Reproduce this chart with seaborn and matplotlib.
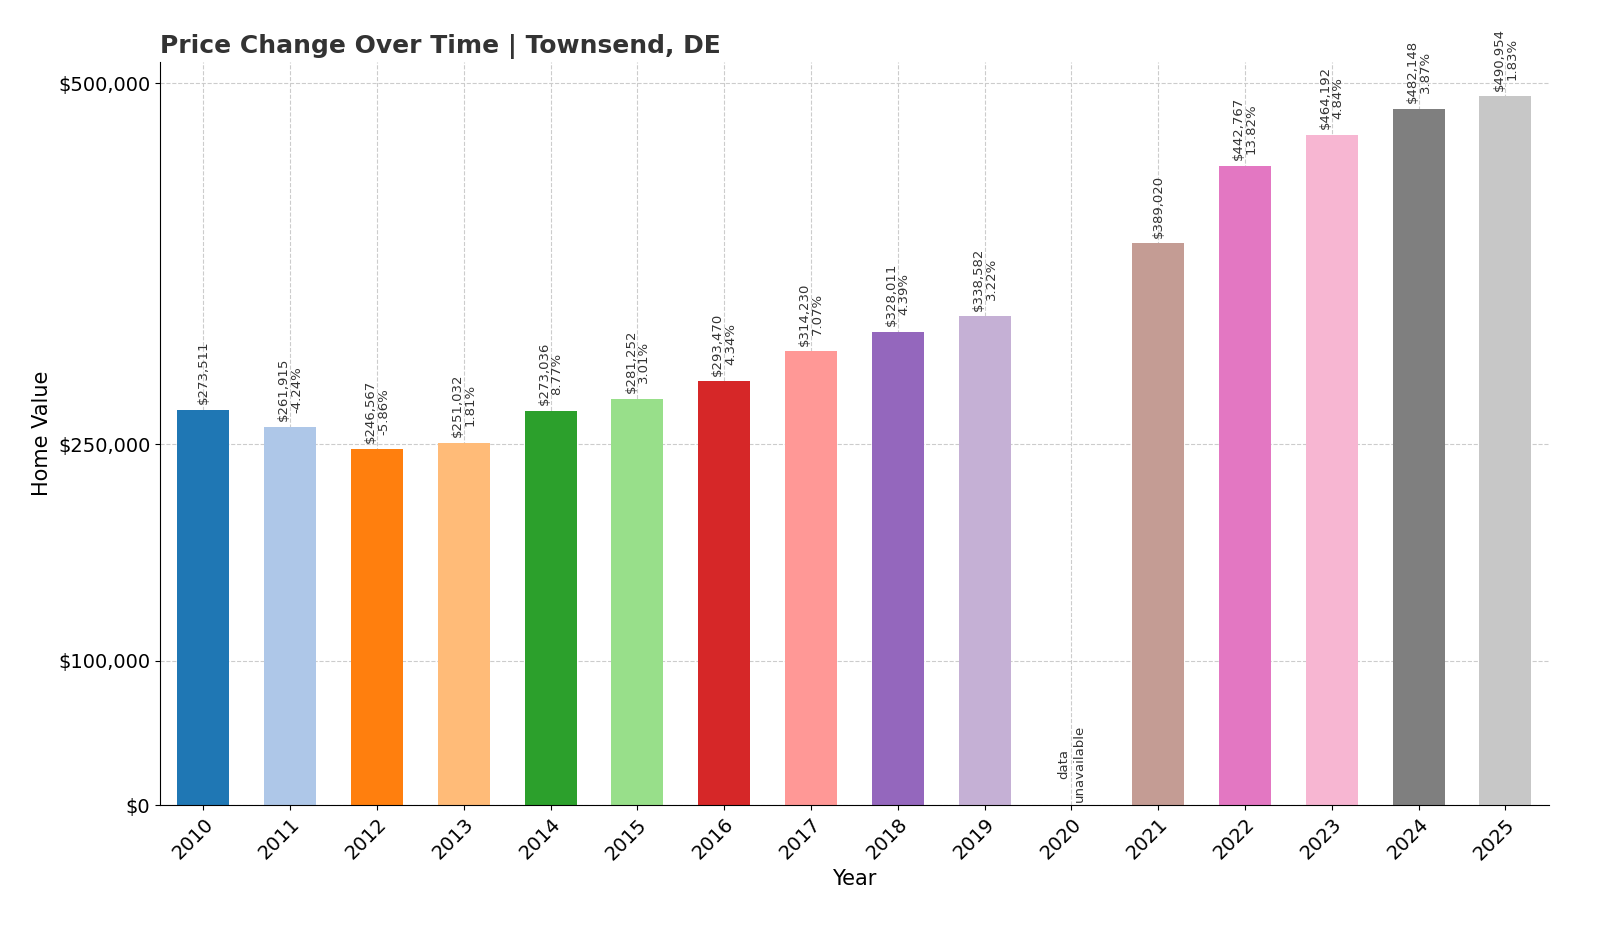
import numpy as np
import pandas as pd
import matplotlib.pyplot as plt
import seaborn as sns
from matplotlib.ticker import FuncFormatter

# data
years = [str(y) for y in range(2010, 2026)]
values = [273511, 261915, 246567, 251032, 273036, 281252, 293470, 314230,
          328011, 338582, np.nan, 389020, 442767, 464192, 482148, 490954]
pct = ["", "-4.24%", "-5.86%", "1.81%", "8.77%", "3.01%", "4.34%", "7.07%",
       "4.39%", "3.22%", "", "", "13.82%", "4.84%", "3.87%", "1.83%"]
yticks = [0, 100000, 250000, 500000]

df = pd.DataFrame({"Year": years, "Value": values})
palette = sns.color_palette("tab20", 16)

fig = plt.figure(figsize=(16, 9.33), dpi=100)
ax = fig.add_axes([0.1, 0.137, 0.868, 0.797])
sns.barplot(data=df, x="Year", y="Value", hue="Year", palette=palette,
            legend=False, width=0.6, saturation=1, ax=ax)

for i, (v, p) in enumerate(zip(values, pct)):
    if np.isnan(v):
        ax.text(i, 2000, "data\nunavailable", rotation=90, ha="center",
                va="bottom", fontsize=9.5, color="#333333")
        continue
    label = f"${v:,.0f}" + (f"\n{p}" if p else "")
    ax.text(i, v + 4000, label, rotation=90, ha="center", va="bottom",
            fontsize=9.5, color="#333333", linespacing=1.0)

ax.set_ylim(0, 515000)
ax.set_yticks(yticks)
ax.yaxis.set_major_formatter(FuncFormatter(lambda x, _: f"${x:,.0f}"))
ax.tick_params(axis="y", labelsize=14)
ax.tick_params(axis="x", labelsize=14, rotation=45)
for t in ax.get_xticklabels():
    t.set_ha("right")
    t.set_rotation_mode("anchor")
ax.grid(True, linestyle="--", color="#cccccc", linewidth=0.8)
ax.set_axisbelow(True)
sns.despine(ax=ax)
ax.set_xlabel("Year", fontsize=15)
ax.set_ylabel("Home Value", fontsize=15)
ax.set_title("Price Change Over Time | Townsend, DE", loc="left",
             fontsize=18, fontweight="bold", color="#333333")

fig.savefig("out.png", dpi=100)
